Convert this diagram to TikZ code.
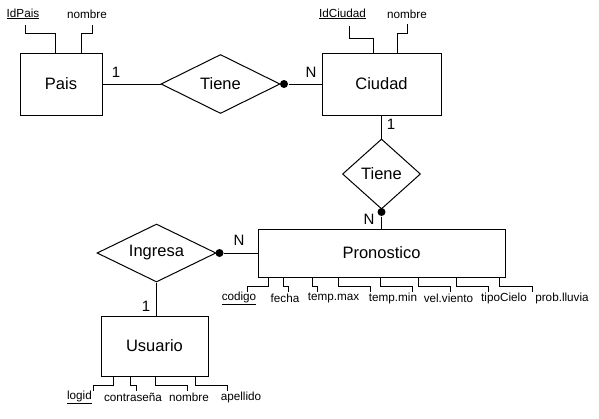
\documentclass[tikz,border=0pt]{standalone}
\usepackage{fontspec}
\setmainfont{Liberation Sans}
\usetikzlibrary{shapes.geometric}
\begin{document}
\begin{tikzpicture}[x=1pt,y=-1pt,line width=1pt,
  ent/.style={draw, rectangle, inner sep=0pt, font=\fontsize{16.5}{18}\selectfont},
  rel/.style={draw, diamond, aspect=2, inner sep=0pt, font=\fontsize{16.5}{18}\selectfont},
  attr/.style={inner sep=1pt, font=\fontsize{11.7}{13}\selectfont},
  card/.style={inner sep=0pt, font=\fontsize{15}{17}\selectfont},
  dot/.style={circle, fill=black, inner sep=0pt, minimum size=8pt},
  link/.style={draw=black, line width=1pt}
]
\useasboundingbox (0,0) rectangle (599,418);

% entities
\node[ent, minimum width=82pt, minimum height=62pt] (pais) at (61,84) {Pais};
\node[ent, minimum width=119pt, minimum height=62pt] (ciudad) at (381.5,84) {Ciudad};
\node[ent, minimum width=247pt, minimum height=48pt] (pron) at (381.5,253) {Pronostico};
\node[ent, minimum width=107pt, minimum height=60pt] (usu) at (154.5,346) {Usuario};

% relationships
\node[rel, minimum width=119pt, minimum height=59pt] (r1) at (220.5,84) {Tiene};
\node[rel, minimum width=78pt, minimum height=70pt] (r2) at (381.5,174) {Tiene};
\node[rel, minimum width=119pt, minimum height=58pt] (r3) at (156.5,253) {Ingresa};

% dots
\node[dot] (d1) at (284,84) {};
\node[dot] (d2) at (381.5,212) {};
\node[dot] (d3) at (219.5,253) {};

% relationship connectors
\draw[link] (pais.east) -- (r1.west);
\draw[link] (d1) -- (ciudad.west);
\draw[link] (ciudad.south) -- (r2.north);
\draw[link] (d2) -- (pron.north);
\draw[link] (d3) -- (pron.west);
\draw[link] (r3.south) -- (r3.south |- usu.north);

% cardinalities
\node[card] (c1) at (116,72) {1};
\node[card] (c2) at (311,72) {N};
\node[card] (c3) at (391,124) {1};
\node[card] (c4) at (369,219) {N};
\node[card] (c5) at (239,240) {N};
\node[card] (c6) at (146,306) {1};

% attributes of Pais and Ciudad
\node[attr] (aidpais) at (23,14) {\underline{IdPais}};
\node[attr] (apnom) at (87,14) {nombre};
\node[attr] (aidciu) at (342.5,14) {\underline{IdCiudad}};
\node[attr] (acnom) at (407,14) {nombre};

\draw[link] (25,25) |- (55,33) -- (55,53);
\draw[link] (92,25) |- (81,33) -- (81,53);
\draw[link] (349,26) |- (373,38) -- (373,53);
\draw[link] (407,24) |- (397,33) -- (397,53);

% attributes of Pronostico
\node[attr] (acod) at (239,298) {\underline{codigo}};
\node[attr] (afecha) at (285,298) {fecha};
\node[attr] (atmax) at (333.5,298) {temp.max};
\node[attr] (atmin) at (393,298) {temp.min};
\node[attr] (avel) at (448.5,298) {vel.viento};
\node[attr] (atipo) at (504,298) {tipoCielo};
\node[attr] (aprob) at (562,298) {prob.lluvia};

\foreach \a/\b in {268/247, 283/288, 312/317, 338/370, 380/412, 418/450, 456/488, 499/532}
  \draw[link] (\a,277) |- (\b,286) -- (\b,292);

% attributes of Usuario
\node[attr] (alog) at (79.5,397) {\underline{logid}};
\node[attr] (acon) at (133,397) {contraseña};
\node[attr] (aunom) at (189,397) {nombre};
\node[attr] (aape) at (241,397) {apellido};

\foreach \a/\b in {113/93, 130/136, 155/187, 195/227}
  \draw[link] (\a,376) |- (\b,385) -- (\b,391);
\end{tikzpicture}
\end{document}
